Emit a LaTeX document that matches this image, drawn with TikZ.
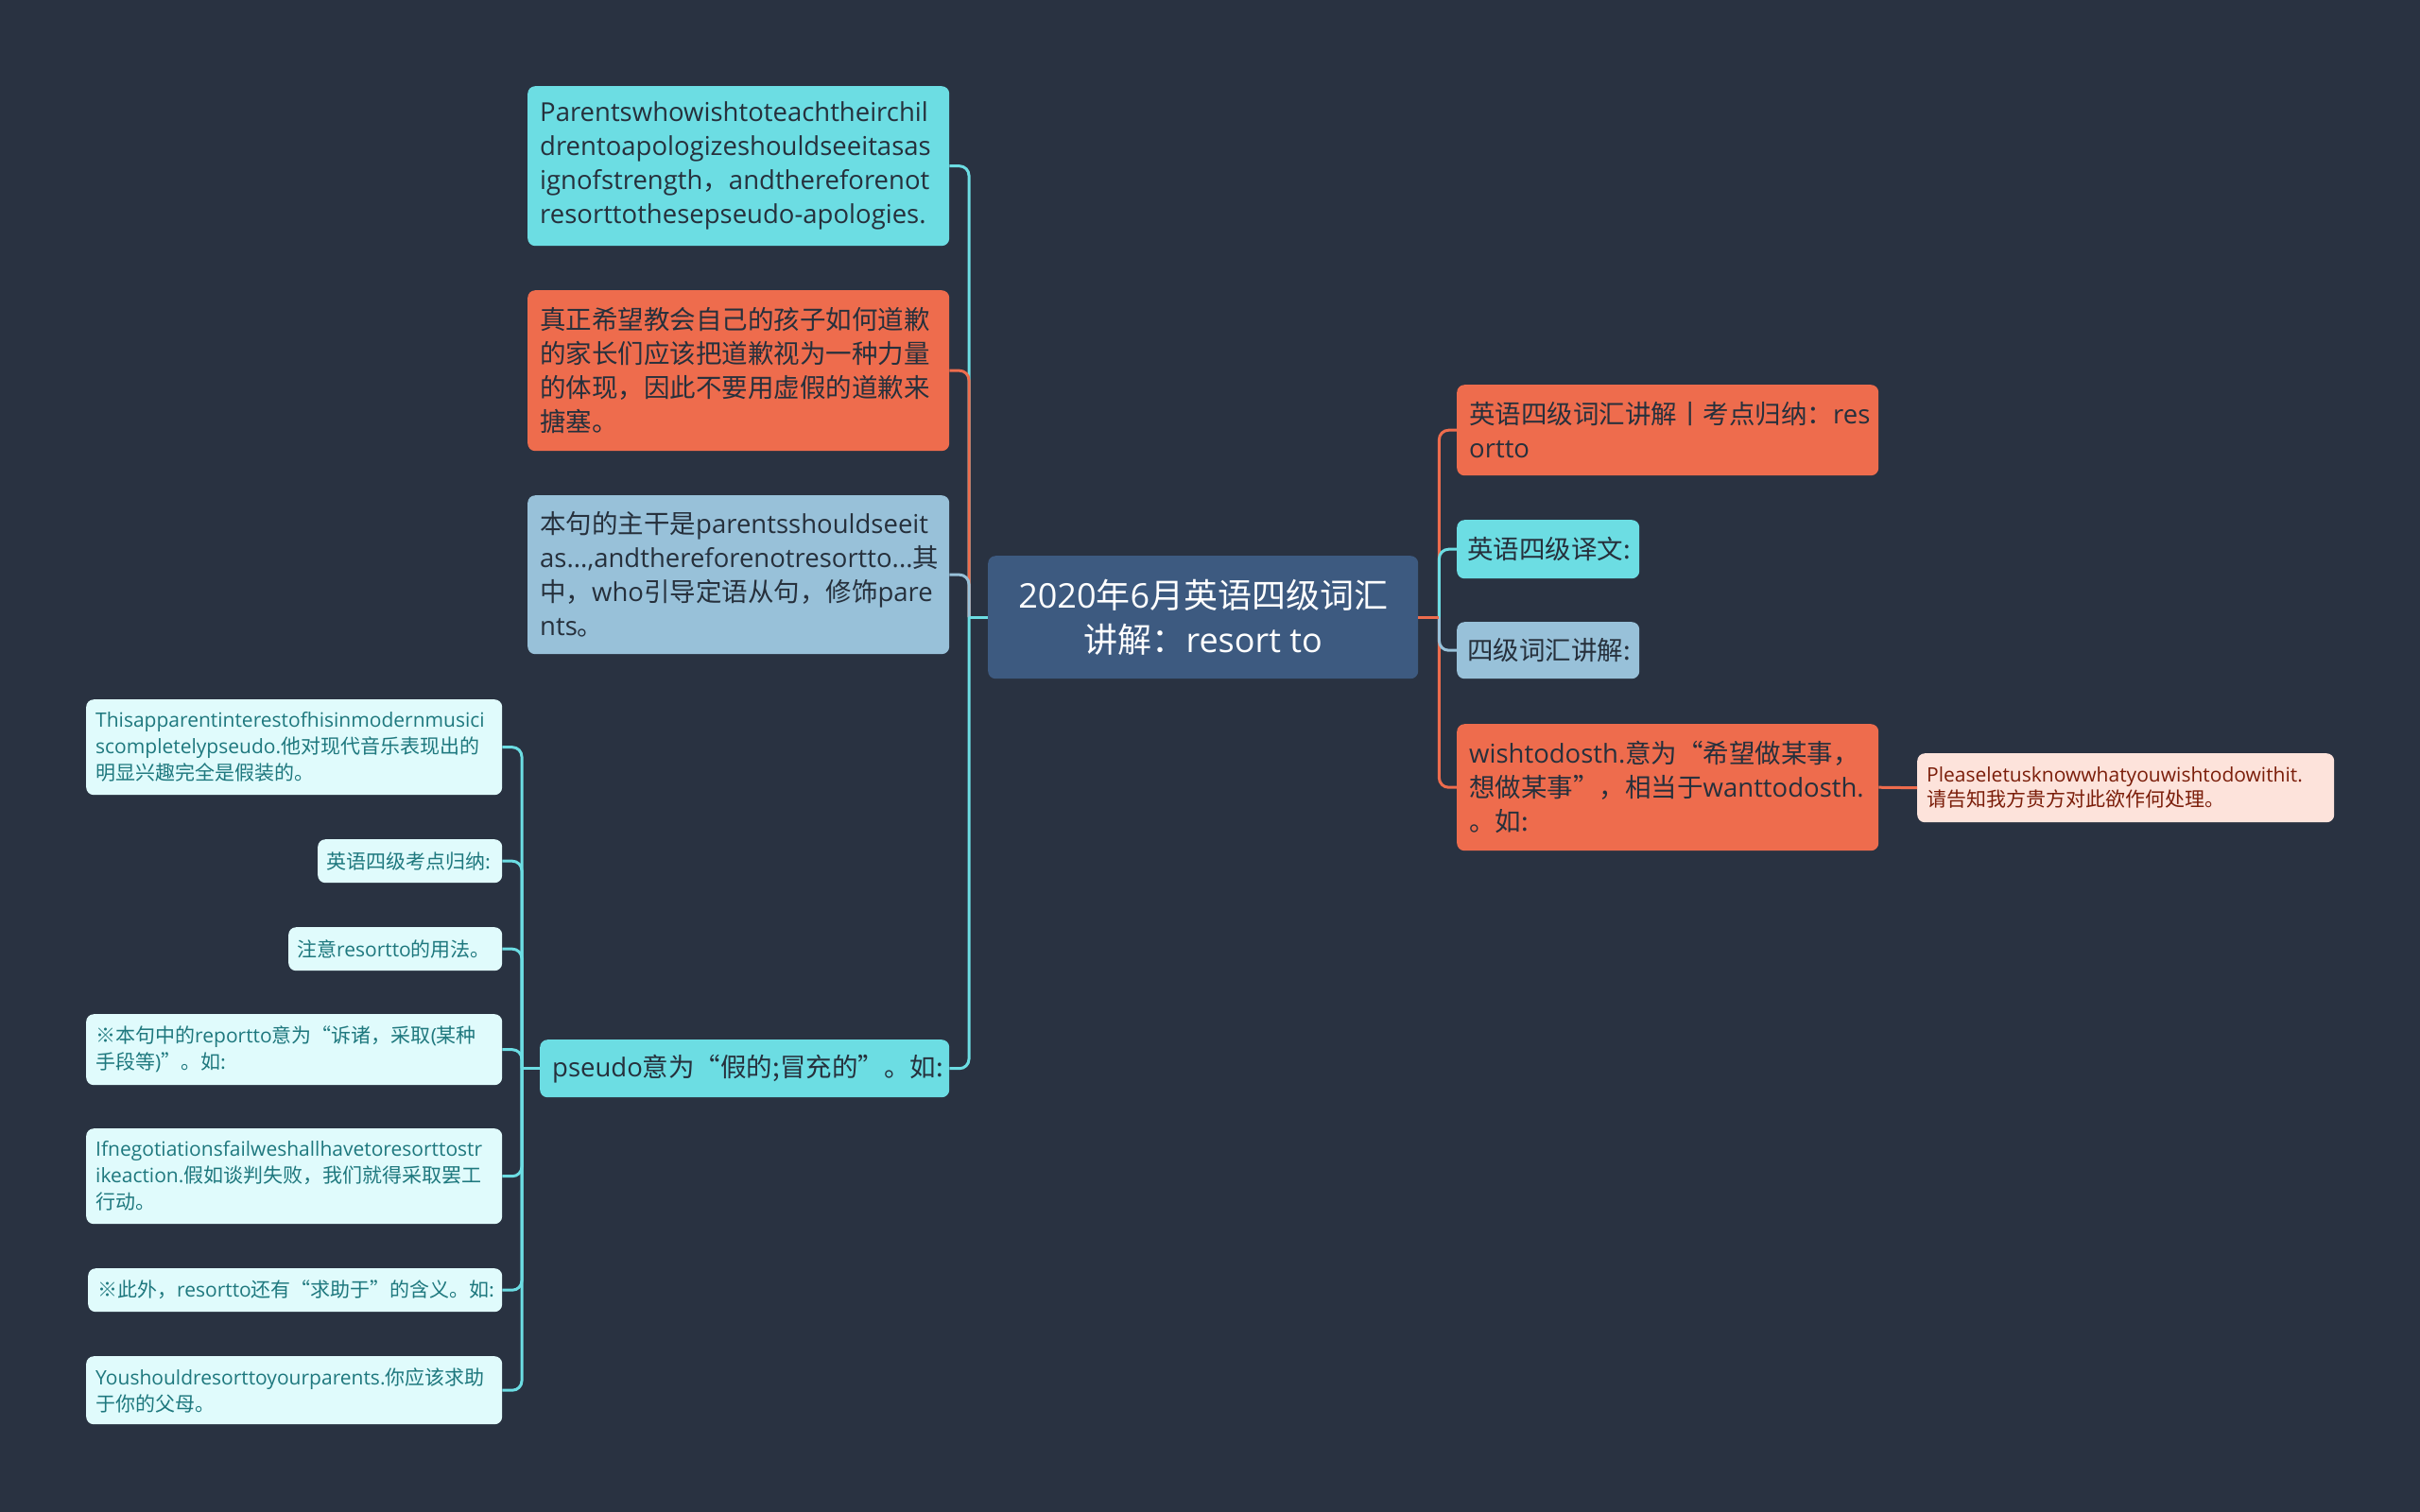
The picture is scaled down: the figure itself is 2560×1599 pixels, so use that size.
\documentclass[tikz,border=0pt]{standalone}
\usepackage{fontspec}
\setmainfont{Noto Sans CJK SC}
\newfontfamily\latf{Open Sans}
\newcommand\la[1]{{\latf #1}}
\definecolor{bg}{HTML}{293241}
\definecolor{cblue}{HTML}{3D5A80}
\definecolor{cy}{HTML}{6CDDE3}
\definecolor{org}{HTML}{EE6C4D}
\definecolor{lb}{HTML}{98C1D9}
\definecolor{pale}{HTML}{E0FBFC}
\definecolor{pink}{HTML}{FDE3DB}
\definecolor{dk}{HTML}{26303C}
\definecolor{tealtxt}{HTML}{1E787E}
\definecolor{redtxt}{HTML}{7B1E0A}
\begin{document}
\begin{tikzpicture}[x=1pt,y=-1pt,
  box/.style={rounded corners=8pt, inner xsep=13pt, inner ysep=0pt, align=left,
    anchor=north west, text=dk, font=\fontsize{27.5}{36}\selectfont},
  small/.style={box, fill=pale, inner xsep=10pt, text=tealtxt, font=\fontsize{21}{28}\selectfont},
  link/.style={line width=3pt, rounded corners=10pt}]
\useasboundingbox (0,0) rectangle (2560,1599);
\fill[bg] (-10,-10) rectangle (2570,1610);

% center
\node[fill=cblue, rounded corners=8pt, text=white, font=\fontsize{36}{47}\selectfont,
  align=center, minimum width=455pt, minimum height=130pt, anchor=north west, inner sep=0pt]
  (C0) at (1045,588) {\la{2020}年\la{6}月英语四级词汇\\讲解：\la{resort to}};

% left branch
\node[box, fill=cy, text width=420pt, minimum height=169pt] (A) at (558,91)
  {\la{Parentswhowishtoteachtheirchil}\\\la{drentoapologizeshouldseeitasas}\\\la{ignofstrength}，\la{andthereforenot}\\\la{resorttothesepseudo-apologies.}};
\node[box, fill=org, text width=420pt, minimum height=170pt] (B) at (558,307)
  {真正希望教会自己的孩子如何道歉\\的家长们应该把道歉视为一种力量\\的体现，因此不要用虚假的道歉来\\搪塞。};
\node[box, fill=lb, text width=420pt, minimum height=168pt] (C) at (558,524)
  {本句的主干是\la{parentsshouldseeit}\\\la{as...,andthereforenotresortto...}其\\中，\la{who}引导定语从句，修饰\la{pare}\\\la{nts}。};
\node[box, fill=cy, text width=407pt, minimum height=61pt] (D) at (571,1100)
  {\la{pseudo}意为“假的;冒充的”。如:};

% far-left children
\node[small, text width=420pt, minimum height=101pt] (E1) at (91,740)
  {\la{Thisapparentinterestofhisinmodernmusici}\\\la{scompletelypseudo.}他对现代音乐表现出的\\明显兴趣完全是假装的。};
\node[small, inner xsep=9pt, text width=177pt, minimum height=46pt] (E2) at (336,888)
  {英语四级考点归纳:};
\node[small, inner xsep=9pt, text width=208pt, minimum height=46pt] (E3) at (305,981)
  {注意\la{resortto}的用法。};
\node[small, text width=420pt, minimum height=75pt] (E4) at (91,1073)
  {※本句中的\la{reportto}意为“诉诸，采取\la{(}某种\\手段等\la{)}”。如:};
\node[small, text width=420pt, minimum height=101pt] (E5) at (91,1194)
  {\la{Ifnegotiationsfailweshallhavetoresorttostr}\\\la{ikeaction.}假如谈判失败，我们就得采取罢工\\行动。};
\node[small, text width=418pt, minimum height=46pt] (E6) at (93,1342)
  {※此外，\la{resortto}还有“求助于”的含义。如:};
\node[small, text width=420pt, minimum height=72pt] (E7) at (91,1435)
  {\la{Youshouldresorttoyourparents.}你应该求助\\于你的父母。};

% right branch
\node[box, fill=org, text width=420pt, minimum height=96pt] (R1) at (1541,407)
  {英语四级词汇讲解丨考点归纳：\la{res}\\\la{ortto}};
\node[box, fill=cy, inner xsep=11pt, text width=171pt, minimum height=62pt] (R2) at (1541,550)
  {英语四级译文:};
\node[box, fill=lb, inner xsep=11pt, text width=171pt, minimum height=60pt] (R3) at (1541,658)
  {四级词汇讲解:};
\node[box, fill=org, text width=420pt, minimum height=134pt] (R4) at (1541,766)
  {\la{wishtodosth.}意为“希望做某事，\\想做某事”，相当于\la{wanttodosth.}\\。如:};
\node[box, fill=pink, inner xsep=10pt, text=redtxt, font=\fontsize{21}{26}\selectfont,
  text width=421pt, minimum height=73pt] (R5) at (2028,797)
  {\la{Pleaseletusknowwhatyouwishtodowithit.}\\请告知我方贵方对此欲作何处理。};

% junction points
\coordinate (tl) at ([xshift=-20pt]C0.west);
\coordinate (tr) at ([xshift=22pt]C0.east);
\coordinate (te) at ([xshift=-19pt]D.west);

% connectors left
\draw[link, cy] (tl) |- (A.east);
\draw[link, org] (tl) |- (B.east);
\draw[link, lb] (tl) |- (C.east);
\draw[link, cy] (tl) |- (D.east);
\draw[link, cy] (C0.west) -- (tl);

% connectors right
\draw[link, org] (tr) |- (R1.west);
\draw[link, cy] (tr) |- (R2.west);
\draw[link, org] (tr) |- (R4.west);
\draw[link, lb] (tr) |- (R3.west);
\draw[link, org] (C0.east) -- (tr);
\draw[link, org] (R4.east) -- (R5.west);

% connectors to far-left children
\foreach \n in {E1,E2,E3,E4,E5,E6,E7}
  \draw[link, cy] (te) |- (\n.east);
\draw[link, cy] (D.west) -- (te);
\end{tikzpicture}
\end{document}
